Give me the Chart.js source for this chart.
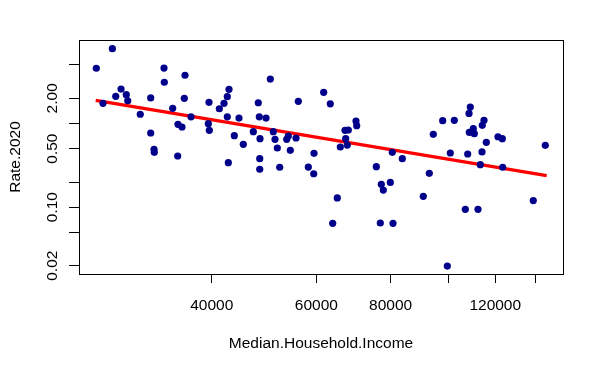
<!DOCTYPE html>
<html>
<head>
<meta charset="utf-8">
<script src="https://cdn.jsdelivr.net/npm/chart.js@4"></script>
<style>
html,body{margin:0;padding:0;background:#fff;}
#wrap{width:604px;height:373px;}
</style>
</head>
<body>
<div id="wrap"><canvas id="c" width="604" height="373"></canvas></div>
<script>
const incomes = [25580, 27220, 26250, 28150, 27580, 28730, 28890, 30330, 31580, 31990,
  32020, 33250, 33290, 31580, 34390, 35100, 35650, 35060, 36070, 35970,
  36920, 39580, 39480, 39630, 41200, 41950, 42490, 42770, 42490, 44460,
  43660, 45210, 42660, 50200, 47910, 48100, 49370, 47000, 50780, 48230,
  51120, 53820, 53490, 55450, 51580, 54240, 48180, 55950, 61730, 63330,
  59460, 65840, 67040, 67910, 67230, 67640, 69960, 70150, 80530, 83710,
  108940, 108400, 97890, 102390, 114880, 114120, 110220, 108520, 110640, 94390,
  121280, 123320, 115910, 145670, 100820, 107850, 114000, 48180, 52060, 58160,
  59390, 75690, 77170, 79910, 77770, 65070, 63920, 76870, 80750, 113250,
  123520, 92940, 90800, 106850, 112240, 139050, 99660];
const rates = [4.57, 7.83, 1.74, 2.58, 2.11, 2.21, 1.87, 1.29, 0.770, 0.492,
  0.453, 4.60, 3.11, 2.02, 1.52, 0.978, 0.908, 0.409, 3.77, 2.00,
  1.20, 1.79, 0.994, 0.829, 1.50, 1.74, 2.09, 2.56, 1.20, 1.16,
  0.715, 0.564, 0.340, 3.40, 1.77, 1.20, 1.16, 0.798, 0.798, 0.658,
  0.647, 0.709, 0.647, 0.671, 0.510, 0.478, 0.380, 1.84, 2.36, 1.72,
  0.440, 0.524, 0.829, 0.836, 0.658, 0.553, 1.07, 0.941, 0.453, 0.380,
  1.57, 1.32, 1.08, 1.09, 1.09, 0.952, 0.867, 0.785, 0.755, 0.743,
  0.695, 0.658, 0.596, 0.549, 0.444, 0.432, 0.457, 0.284, 0.300, 0.302,
  0.251, 0.305, 0.188, 0.198, 0.160, 0.129, 0.0642, 0.0648, 0.0642, 0.322,
  0.300, 0.254, 0.135, 0.0944, 0.0944, 0.120, 0.0198];
const fitIncome = [25520, 146470];
const fitRate = [1.893, 0.238];
const xTickValues = [40000, 60000, 80000, 100000, 120000, 140000];
const xTickLabels = ['40000', '60000', '80000', '', '120000', ''];
const yTickValues = [0.02, 0.05, 0.1, 0.2, 0.5, 1, 2, 5];
const yTickLabels = ['0.02', '', '0.10', '', '0.50', '', '2.00', ''];
const xTitle = 'Median.Household.Income';
const yTitle = 'Rate.2020';

const FONT = '"Liberation Sans", Arial, Helvetica, sans-serif';
const FSIZE = 15.5;

const points = incomes.map((v, i) => ({x: v, y: rates[i]}));
const fitLine = fitIncome.map((v, i) => ({x: v, y: fitRate[i]}));

const rStyle = {
  id: 'rStyle',
  afterDraw(chart) {
    const {ctx, chartArea: a, scales} = chart;
    ctx.save();
    ctx.strokeStyle = '#000';
    ctx.lineWidth = 1;
    ctx.strokeRect(Math.round(a.left) + 0.5, Math.round(a.top) + 0.5,
      Math.round(a.right - a.left), Math.round(a.bottom - a.top));
    ctx.fillStyle = '#000';
    ctx.font = FSIZE + 'px ' + FONT;
    // y tick labels (rotated, R style)
    yTickValues.forEach((v, i) => {
      const lab = yTickLabels[i];
      if (!lab) return;
      const py = scales.y.getPixelForValue(v);
      ctx.save();
      ctx.translate(57, py);
      ctx.rotate(-Math.PI / 2);
      ctx.textAlign = 'center';
      ctx.textBaseline = 'alphabetic';
      ctx.fillText(lab, 0, 0);
      ctx.restore();
    });
    // axis titles
    ctx.textAlign = 'center';
    ctx.textBaseline = 'alphabetic';
    ctx.fillText(xTitle, (a.left + a.right) / 2, 347.5);
    ctx.save();
    ctx.translate(19.5, (a.top + a.bottom) / 2);
    ctx.rotate(-Math.PI / 2);
    ctx.fillText(yTitle, 0, 0);
    ctx.restore();
    ctx.restore();
  }
};

new Chart(document.getElementById('c'), {
  type: 'scatter',
  data: {
    datasets: [
      {
        type: 'scatter',
        data: points,
        backgroundColor: '#00008B',
        borderColor: '#00008B',
        pointRadius: 3.6,
        pointBorderWidth: 0,
        order: 0
      },
      {
        type: 'line',
        data: fitLine,
        borderColor: '#FF0000',
        borderWidth: 3.2,
        pointRadius: 0,
        fill: false,
        order: 1
      }
    ]
  },
  options: {
    responsive: false,
    animation: false,
    devicePixelRatio: 1,
    layout: {padding: {left: 0, right: 41, top: 40, bottom: 0}},
    plugins: {legend: {display: false}, tooltip: {enabled: false}},
    scales: {
      x: {
        type: 'logarithmic',
        min: 23920,
        max: 156020,
        afterBuildTicks: s => { s.ticks = xTickValues.map(v => ({value: v})); },
        afterFit: s => { s.height = 99; },
        grid: {drawOnChartArea: false, drawTicks: true, tickLength: 9, color: '#000', tickColor: '#000', lineWidth: 1},
        border: {display: true, color: '#000', width: 1},
        ticks: {
          autoSkip: false, maxRotation: 0, minRotation: 0, padding: 13,
          color: '#000', font: {family: FONT, size: FSIZE},
          callback: (v) => { const i = xTickValues.indexOf(v); return i >= 0 ? xTickLabels[i] : ''; }
        }
      },
      y: {
        type: 'logarithmic',
        min: 0.015925,
        max: 9.944,
        afterBuildTicks: s => { s.ticks = yTickValues.map(v => ({value: v})); },
        afterFit: s => { s.width = 79; },
        grid: {drawOnChartArea: false, drawTicks: true, tickLength: 10, color: '#000', tickColor: '#000', lineWidth: 1},
        border: {display: true, color: '#000', width: 1},
        ticks: {display: false}
      }
    }
  },
  plugins: [rStyle]
});
</script>
</body>
</html>
